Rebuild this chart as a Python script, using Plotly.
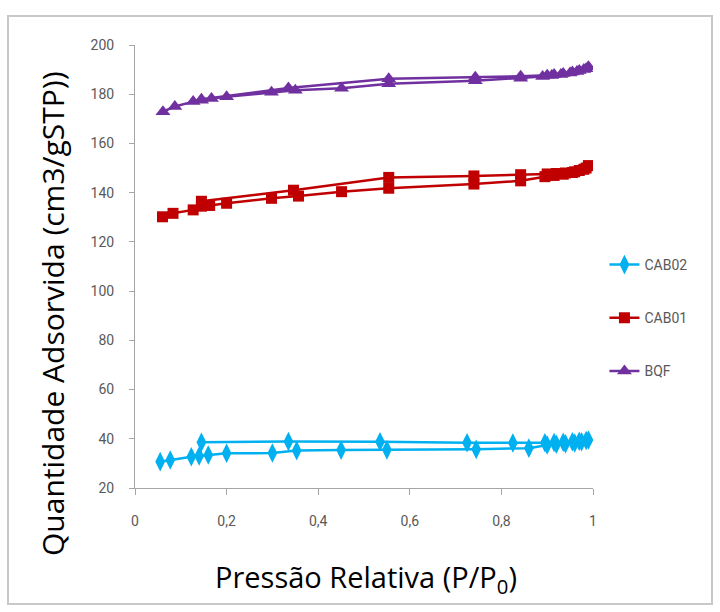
import plotly.graph_objects as go

# CAB02 (adsorption then desorption)
cab02_x = [0.055, 0.077, 0.123, 0.14, 0.16, 0.2, 0.3, 0.353, 0.45, 0.55, 0.745, 0.86, 0.9, 0.92, 0.94, 0.96, 0.975, 0.99,
           0.985, 0.97, 0.955, 0.935, 0.915, 0.895, 0.825, 0.725, 0.535, 0.335, 0.145]
cab02_y = [30.7, 31.4, 32.7, 33.0, 33.4, 34.1, 34.2, 35.2, 35.4, 35.5, 35.7, 36.2, 37.5, 37.8, 38.0, 38.3, 38.8, 39.5,
           39.3, 39.0, 38.8, 38.6, 38.5, 38.4, 38.3, 38.4, 38.8, 38.9, 38.6]

# CAB01
cab01_x = [0.06, 0.083, 0.127, 0.145, 0.163, 0.2, 0.298, 0.357, 0.451, 0.554, 0.74, 0.842, 0.895, 0.915, 0.935, 0.955, 0.97, 0.985, 0.99,
           0.98, 0.96, 0.94, 0.92, 0.9, 0.842, 0.74, 0.554, 0.346, 0.145]
cab01_y = [130.2, 131.6, 133.0, 134.5, 134.8, 135.7, 137.7, 138.6, 140.4, 141.8, 143.5, 144.8, 146.5, 147.0, 147.5, 148.2, 149.0, 150.0, 151.0,
           149.5, 148.5, 148.0, 147.8, 147.6, 147.3, 146.8, 146.2, 141.0, 136.5]

# BQF
bqf_x = [0.061, 0.087, 0.127, 0.145, 0.167, 0.2, 0.298, 0.35, 0.451, 0.554, 0.743, 0.842, 0.89, 0.91, 0.93, 0.95, 0.965, 0.98, 0.99,
         0.985, 0.97, 0.955, 0.935, 0.915, 0.9, 0.842, 0.743, 0.554, 0.335, 0.145]
bqf_y = [172.9, 175.0, 177.0, 177.6, 178.3, 179.0, 180.8, 181.6, 182.4, 184.3, 185.5, 186.5, 187.2, 187.6, 188.0, 188.6, 189.2, 190.0, 191.2,
         190.3, 189.6, 189.0, 188.4, 188.0, 187.7, 187.3, 186.9, 186.3, 182.5, 178.0]

x_ticks = [0, 0.2, 0.4, 0.6, 0.8, 1]
y_ticks = [20, 40, 60, 80, 100, 120, 140, 160, 180, 200]

series = [
    ("CAB02", cab02_x, cab02_y, "#00B0F0", "diamond-tall", 14),
    ("CAB01", cab01_x, cab01_y, "#C00000", "square", 11),
    ("BQF", bqf_x, bqf_y, "#7030A0", "triangle-up", 13),
]

fig = go.Figure()
for name, xs, ys, col, sym, sz in series:
    fig.add_trace(go.Scatter(
        x=xs, y=ys, name=name, mode="lines+markers",
        line=dict(color=col, width=2.5),
        marker=dict(symbol=sym, size=sz, color=col),
        legendgroup=name,
    ))

tick_font = dict(family="Liberation Sans Narrow, Arial Narrow, Roboto, sans-serif", size=14, color="#595959")

fig.update_layout(
    width=720, height=612,
    margin=dict(l=135, r=127, t=45, b=124),
    paper_bgcolor="white", plot_bgcolor="white",
    separators=",.",
    showlegend=True,
    legend=dict(
        x=1.025, y=(488 - 318) / 443, xanchor="left", yanchor="middle",
        font=tick_font, tracegroupgap=32, itemwidth=30,
        bgcolor="rgba(0,0,0,0)",
    ),
    xaxis=dict(
        range=[0, 1], tickvals=x_ticks, showgrid=False, zeroline=False,
        showline=True, linecolor="#a6a6a6", linewidth=1,
        ticks="outside", ticklen=6, tickcolor="#a6a6a6",
        tickfont=tick_font, ticklabelstandoff=14,
    ),
    yaxis=dict(
        range=[20, 200], tickvals=y_ticks, showgrid=False, zeroline=False,
        showline=True, linecolor="#a6a6a6", linewidth=1,
        ticks="outside", ticklen=5, tickcolor="#a6a6a6",
        tickfont=tick_font, ticklabelstandoff=12,
    ),
    shapes=[dict(
        type="rect", xref="paper", yref="paper",
        x0=-0.2773, x1=1.2598, y0=-0.262, y1=1.0655,
        line=dict(color="#c8c8c8", width=2), fillcolor="rgba(0,0,0,0)",
    )],
    annotations=[
        dict(text="Quantidade Adsorvida (cm3/gSTP))", xref="paper", yref="paper",
             x=(52 - 135) / 458, y=(488 - 314) / 443, textangle=-90,
             showarrow=False, xanchor="center", yanchor="middle",
             font=dict(family="Open Sans, sans-serif", size=30, color="black")),
        dict(text="Pressão Relativa (P/P<sub>0</sub>)", xref="paper", yref="paper",
             x=(366 - 135) / 458, y=(488 - 578) / 443,
             showarrow=False, xanchor="center", yanchor="middle",
             font=dict(family="Open Sans, sans-serif", size=29, color="black")),
    ],
)

fig.write_html("out.html")
